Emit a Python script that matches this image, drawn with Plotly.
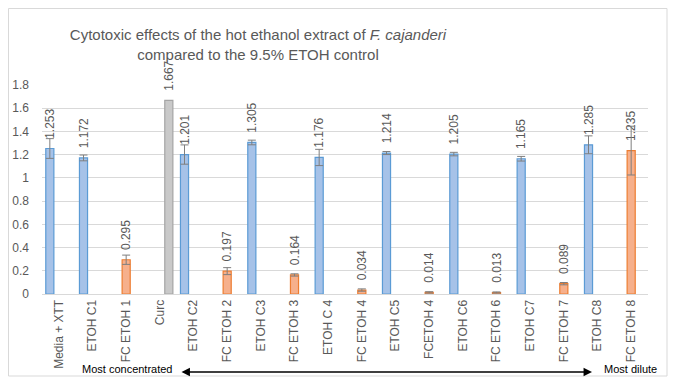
import plotly.graph_objects as go

categories = ["Media + XTT", "ETOH C1", "FC ETOH 1", "Curc", "ETOH C2", "FC ETOH 2",
              "ETOH C3", "FC ETOH 3", "ETOH C 4", "FC ETOH 4", "ETOH C5", "FCETOH 4",
              "ETOH C6", "FC ETOH 6", "ETOH C7", "FC ETOH 7", "ETOH C8", "FC ETOH 8"]
# series: ETOH controls (blue), F. cajanderi extract (orange), curcumin (gray)
control = [1.253, 1.172, None, None, 1.201, None, 1.305, None, 1.176, None, 1.214, None,
           1.205, None, 1.165, None, 1.285, None]
control_err = [0.085, 0.025, None, None, 0.083, None, 0.02, None, 0.07, None, 0.013, None,
               0.015, None, 0.02, None, 0.077, None]
extract = [None, None, 0.295, None, None, 0.197, None, 0.164, None, 0.034, None, 0.014,
           None, 0.013, None, 0.089, None, 1.235]
extract_err = [None, None, 0.04, None, None, 0.03, None, 0.01, None, 0.01, None, 0.006,
               None, 0.005, None, 0.01, None, 0.21]
curc = [None, None, None, 1.667, None, None, None, None, None, None, None, None,
        None, None, None, None, None, None]

GRAY = "#595959"
LBL = dict(family="Liberation Sans, Arial", size=12, color=GRAY)
OFF = 8  # page body margin in the browser

def txt(vals):
    return ["" if v is None else "\u00a0\u00a0" + f"{v:.3f}" for v in vals]

fig = go.Figure()
fig.add_trace(go.Bar(x=categories, y=control, name="control",
                     marker=dict(color="#a6c2e8", line=dict(color="#5b9bd5", width=1.2)),
                     error_y=dict(type="data", array=control_err, color="#7f7f7f", thickness=1, width=4),
                     text=txt(control), textposition="outside", textangle=-90,
                     textfont=LBL, constraintext="none", cliponaxis=False))
fig.add_trace(go.Bar(x=categories, y=extract, name="extract",
                     marker=dict(color="#f6b08c", line=dict(color="#ed7d31", width=1.2)),
                     error_y=dict(type="data", array=extract_err, color="#7f7f7f", thickness=1, width=4),
                     text=txt(extract), textposition="outside", textangle=-90,
                     textfont=LBL, constraintext="none", cliponaxis=False))
fig.add_trace(go.Bar(x=categories, y=curc, name="curc",
                     marker=dict(color="#c9c9c9", line=dict(color="#a5a5a5", width=1.2)),
                     text=txt(curc), textposition="outside", textangle=-90,
                     textfont=LBL, constraintext="none", cliponaxis=False))

W, H = 676 - OFF, 379 - OFF
fig.update_layout(
    width=W, height=H, margin=dict(l=42 - OFF, r=28, t=85 - OFF, b=85, autoexpand=False),
    paper_bgcolor="white", plot_bgcolor="white", showlegend=False,
    barmode="group", bargap=0.198, bargroupgap=0.1,
    title=dict(text="Cytotoxic effects of the hot ethanol extract of <i>F. cajanderi</i><br>compared to the 9.5% ETOH control",
               x=(258 - OFF) / W, xref="container", xanchor="center", y=1 - (40 - OFF) / H, yanchor="middle",
               font=dict(family="Liberation Sans, Arial", size=15, color=GRAY)),
    font=dict(family="Liberation Sans, Arial", color=GRAY),
    xaxis=dict(tickangle=-90, tickfont=dict(size=12, color=GRAY), showline=True, linecolor="#d9d9d9",
               showgrid=False, categoryorder="array", categoryarray=categories),
    yaxis=dict(range=[0, 1.8], dtick=0.2, gridcolor="#d9d9d9", zeroline=False, showline=False,
               tickfont=dict(size=12, color=GRAY), ticklabelstandoff=12),
)

fig.add_shape(type="rect", xref="paper", yref="paper",
              x0=(8.5 - 42) / 606, x1=(667 - 42) / 606, y0=(294 - 376) / 209, y1=(294 - 8.5) / 209,
              line=dict(color="#d9d9d9", width=1))
fig.add_annotation(xref="x domain", yref="y domain", axref="x domain", ayref="y domain",
                   x=(592 - 42) / 606, y=(294 - 372) / 209, ax=(180 - 42) / 606, ay=(294 - 372) / 209,
                   text="", showarrow=True, arrowside="end+start", arrowhead=2, arrowsize=1.3,
                   arrowwidth=1.3, arrowcolor="black")
fig.add_annotation(xref="x domain", yref="y domain", x=(175 - 42) / 606, y=(294 - 369) / 209,
                   text="Most concentrated", showarrow=False, xanchor="right", yanchor="middle",
                   font=dict(family="Liberation Sans, Arial", size=11, color="black"))
fig.add_annotation(xref="x domain", yref="y domain", x=(602 - 42) / 606, y=(294 - 369) / 209,
                   text="Most dilute", showarrow=False, xanchor="left", yanchor="middle",
                   font=dict(family="Liberation Sans, Arial", size=11, color="black"))

fig.write_html("out.html")
